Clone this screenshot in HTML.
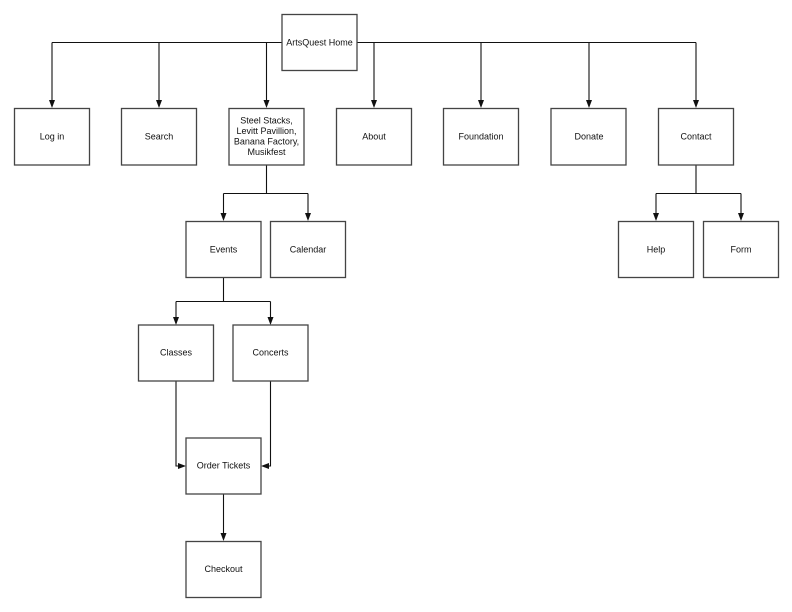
<!DOCTYPE html>
<html><head><meta charset="utf-8"><style>
html,body{margin:0;padding:0;background:#fff;}
svg{display:block;}
text{font-family:"Liberation Sans",Arial,sans-serif;font-size:9px;fill:#111;text-anchor:middle;}
.b{fill:#fff;stroke:#444;stroke-width:1.3;}
.l{fill:none;stroke:#111;stroke-width:1.1;}
.a{fill:#111;stroke:none;}
</style></head><body>
<svg width="792" height="612" viewBox="0 0 792 612" xmlns="http://www.w3.org/2000/svg">
<!-- top connectors -->
<path class="l" d="M52,42.5 H282 M357,42.5 H696"/>
<path class="l" d="M52,42.5 V101 M159,42.5 V101 M266.5,42.5 V101 M374,42.5 V101 M481,42.5 V101 M589,42.5 V101 M696,42.5 V101"/>
<g class="a">
<polygon points="49,100 55,100 52,108"/>
<polygon points="156,100 162,100 159,108"/>
<polygon points="263.5,100 269.5,100 266.5,108"/>
<polygon points="371,100 377,100 374,108"/>
<polygon points="478,100 484,100 481,108"/>
<polygon points="586,100 592,100 589,108"/>
<polygon points="693,100 699,100 696,108"/>
</g>
<!-- steel -> events/calendar -->
<path class="l" d="M266.5,165 V193.5 M223.5,193.5 H308 M223.5,193.5 V214 M308,193.5 V214"/>
<g class="a">
<polygon points="220.5,213 226.5,213 223.5,221"/>
<polygon points="305,213 311,213 308,221"/>
</g>
<!-- events -> classes/concerts -->
<path class="l" d="M223.5,278 V301.5 M176,301.5 H270.5 M176,301.5 V317 M270.5,301.5 V317"/>
<g class="a">
<polygon points="173,317 179,317 176,325"/>
<polygon points="267.5,317 273.5,317 270.5,325"/>
</g>
<!-- classes/concerts -> order tickets -->
<path class="l" d="M176,381 V466 H179 M270.5,381 V466 H268"/>
<g class="a">
<polygon points="178,463 178,469 186,466"/>
<polygon points="269,463 269,469 261,466"/>
</g>
<!-- order -> checkout -->
<path class="l" d="M223.5,494 V534"/>
<polygon class="a" points="220.5,533 226.5,533 223.5,541"/>
<!-- contact -> help/form -->
<path class="l" d="M696,165 V193.5 M656,193.5 H741 M656,193.5 V214 M741,193.5 V214"/>
<g class="a">
<polygon points="653,213 659,213 656,221"/>
<polygon points="738,213 744,213 741,221"/>
</g>
<!-- boxes -->
<rect class="b" x="282" y="14.5" width="75" height="56"/>
<text x="319.5" y="45.5">ArtsQuest Home</text>

<rect class="b" x="14.5" y="108.5" width="75" height="56.5"/>
<text x="52" y="139.5">Log in</text>
<rect class="b" x="121.5" y="108.5" width="75" height="56.5"/>
<text x="159" y="139.5">Search</text>
<rect class="b" x="229" y="108.5" width="75" height="56.5"/>
<text x="266.5" y="123.5">Steel Stacks,</text>
<text x="266.5" y="134">Levitt Pavillion,</text>
<text x="266.5" y="144.5">Banana Factory,</text>
<text x="266.5" y="155">Musikfest</text>
<rect class="b" x="336.5" y="108.5" width="75" height="56.5"/>
<text x="374" y="139.5">About</text>
<rect class="b" x="443.5" y="108.5" width="75" height="56.5"/>
<text x="481" y="139.5">Foundation</text>
<rect class="b" x="551" y="108.5" width="75" height="56.5"/>
<text x="589" y="139.5">Donate</text>
<rect class="b" x="658.5" y="108.5" width="75" height="56.5"/>
<text x="696" y="139.5">Contact</text>

<rect class="b" x="186" y="221.5" width="75" height="56"/>
<text x="223.5" y="252.5">Events</text>
<rect class="b" x="270.5" y="221.5" width="75" height="56"/>
<text x="308" y="252.5">Calendar</text>

<rect class="b" x="618.5" y="221.5" width="75" height="56"/>
<text x="656" y="252.5">Help</text>
<rect class="b" x="703.5" y="221.5" width="75" height="56"/>
<text x="741" y="252.5">Form</text>

<rect class="b" x="138.5" y="325" width="75" height="56"/>
<text x="176" y="355.5">Classes</text>
<rect class="b" x="233" y="325" width="75" height="56"/>
<text x="270.5" y="355.5">Concerts</text>

<rect class="b" x="186" y="438" width="75" height="56"/>
<text x="223.5" y="468.5">Order Tickets</text>
<rect class="b" x="186" y="541.5" width="75" height="56"/>
<text x="223.5" y="572">Checkout</text>
</svg>
</body></html>
